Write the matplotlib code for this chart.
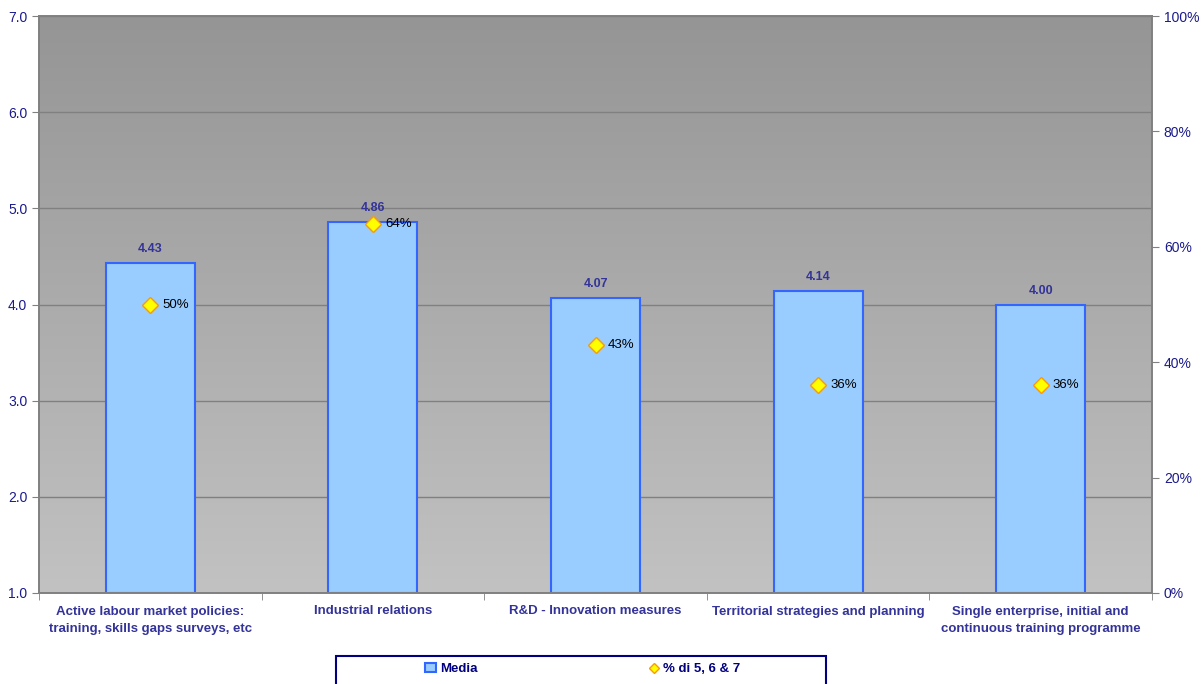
import matplotlib.pyplot as plt
import numpy as np
from matplotlib.patches import Rectangle

plt.rcParams['font.family'] = ['Liberation Sans', 'DejaVu Sans']

categories = ["Active labour market policies:\ntraining, skills gaps surveys, etc",
              "Industrial relations",
              "R&D - Innovation measures",
              "Territorial strategies and planning",
              "Single enterprise, initial and\ncontinuous training programme"]
media = [4.43, 4.86, 4.07, 4.14, 4.00]
pct = [50, 64, 43, 36, 36]

navy = '#1a1a8c'
fig = plt.figure(figsize=(12.02, 6.84), dpi=100)
ax = fig.add_axes([39/1202, 1-593/684, 1113/1202, 577/684])
ax2 = ax.twinx()

x = np.arange(len(categories))
ax.set_xlim(-0.5, len(categories)-0.5)
ax.set_ylim(1, 7)

# gradient background
grad = np.linspace(0, 1, 256).reshape(-1, 1)
ax.imshow(grad, extent=[-0.5, len(categories)-0.5, 1, 7], aspect='auto',
          cmap=plt.matplotlib.colors.LinearSegmentedColormap.from_list('g', ['#c2c2c2', '#959595']),
          origin='lower', zorder=0)
ax.set_yticks(np.arange(1, 8, 1))
ax.yaxis.set_major_formatter(plt.FormatStrFormatter('%.1f'))
ax.grid(axis='y', color='#808080', linewidth=1, zorder=1)
ax.set_axisbelow(True)

ax.bar(x, [m-1 for m in media], bottom=1, width=0.4, color='#99ccff',
       edgecolor='#3366ff', linewidth=1.5, zorder=2, label='Media')
for xi, m in zip(x, media):
    ax.text(xi, m+0.08, f'{m:.2f}', ha='center', va='bottom', color='#333399',
            fontsize=9, fontweight='bold', zorder=5)

ax2.set_ylim(0, 100)
ax2.set_yticks(np.arange(0, 101, 20))
ax2.set_yticklabels([f'{v}%' for v in range(0, 101, 20)])
ax2.plot(x, pct, linestyle='none', marker='D', markersize=8, markerfacecolor='#ffff00',
         markeredgecolor='#ff9900', markeredgewidth=1, zorder=6, label='% di 5, 6 & 7')
for xi, p in zip(x, pct):
    ax2.text(xi+0.055, p, f'{p}%', ha='left', va='center', color='black', fontsize=9.5, zorder=7)

ax.set_xticks(x)
ax.set_xticklabels(categories, color='#333399', fontsize=9.5, fontweight='bold',
                   linespacing=1.6)
ax.set_xticks(np.arange(-0.5, len(categories), 1), minor=True)
ax.tick_params(axis='x', which='major', length=0, pad=9)
ax.tick_params(axis='x', which='minor', length=5, color='#808080')
ax.tick_params(axis='y', colors='#808080', labelcolor=navy, labelsize=10, length=5)
ax2.tick_params(axis='y', colors='#808080', labelcolor=navy, labelsize=10, length=5)

for a in (ax, ax2):
    for s in a.spines.values():
        s.set_color('#808080')
        s.set_linewidth(1.2)

# legend frame (cut off at the bottom of the image, as in the original)
fig.patches.append(Rectangle((336/1202, -0.05), 490/1202, (684-656)/684+0.05,
                             transform=fig.transFigure, fill=False,
                             edgecolor='#000080', linewidth=1.5))
h1, l1 = ax.get_legend_handles_labels()
h2, l2 = ax2.get_legend_handles_labels()
leg = fig.legend(h1+h2, l1+l2, loc='center', ncol=2,
                 bbox_to_anchor=(583/1202, 1-669/684),
                 frameon=False, handlelength=0.8, columnspacing=13,
                 handletextpad=0.3, borderpad=0, borderaxespad=0,
                 prop={'size': 9.5, 'weight': 'bold'}, markerscale=0.6)
for t in leg.get_texts():
    t.set_color('#000080')

fig.savefig('out.png', dpi=100)
